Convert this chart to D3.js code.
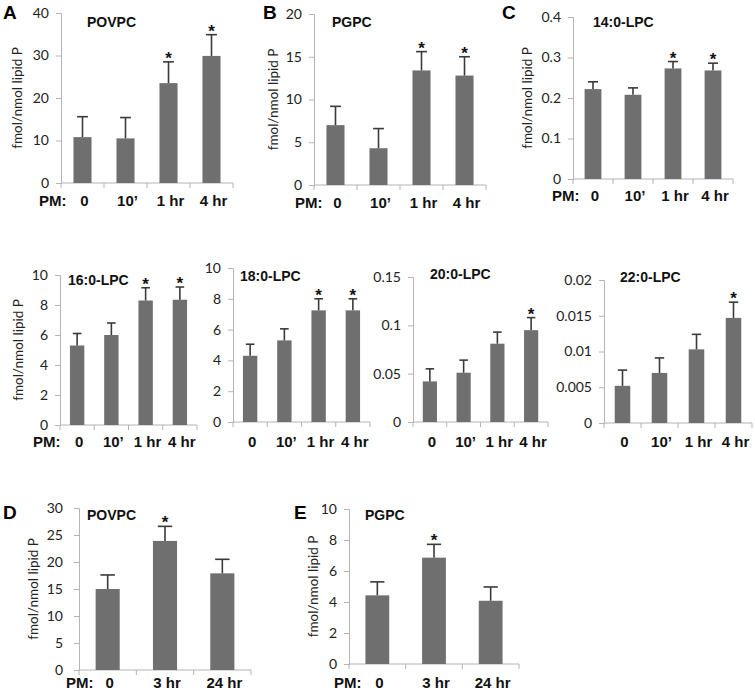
<!DOCTYPE html>
<html>
<head>
<meta charset="utf-8">
<script src="https://cdn.jsdelivr.net/npm/d3@7"></script>
<style>
  html, body { margin: 0; padding: 0; background: #fff; }
  svg { display: block; }
</style>
</head>
<body>
<svg id="chart" width="755" height="693"></svg>
<script>
// ---------- DATA ----------
const timesShortTerm = ["0", "10\u2019", "1 hr", "4 hr"];
const timesLongTerm = ["0", "3 hr", "24 hr"];

const povpcA = [10.8, 10.5, 23.5, 29.9];
const povpcAErr = [4.8, 4.9, 5.0, 5.0];
const povpcASig = [0, 0, 1, 1];

const pgpcB = [7.0, 4.3, 13.4, 12.8];
const pgpcBErr = [2.2, 2.3, 2.2, 2.2];
const pgpcBSig = [0, 0, 1, 1];

const lpc14 = [0.222, 0.208, 0.273, 0.268];
const lpc14Err = [0.018, 0.017, 0.017, 0.018];
const lpc14Sig = [0, 0, 1, 1];

const lpc16 = [5.3, 6.0, 8.3, 8.35];
const lpc16Err = [0.8, 0.8, 0.85, 0.85];
const lpc16Sig = [0, 0, 1, 1];

const lpc18 = [4.3, 5.3, 7.25, 7.25];
const lpc18Err = [0.75, 0.75, 0.75, 0.75];
const lpc18Sig = [0, 0, 1, 1];

const lpc20 = [0.042, 0.051, 0.081, 0.095];
const lpc20Err = [0.013, 0.013, 0.012, 0.013];
const lpc20Sig = [0, 0, 0, 1];

const lpc22 = [0.0052, 0.0070, 0.0103, 0.0147];
const lpc22Err = [0.0022, 0.0021, 0.0021, 0.0022];
const lpc22Sig = [0, 0, 0, 1];

const povpcD = [15.0, 23.9, 17.9];
const povpcDErr = [2.6, 2.7, 2.6];
const povpcDSig = [0, 1, 0];

const pgpcE = [4.43, 6.86, 4.08];
const pgpcEErr = [0.87, 0.86, 0.89];
const pgpcESig = [0, 1, 0];

const ticksA = [0, 10, 20, 30, 40];
const ticksB = [0, 5, 10, 15, 20];
const ticksC = [0, 0.1, 0.2, 0.3, 0.4];
const ticks16 = [0, 2, 4, 6, 8, 10];
const ticks18 = [0, 2, 4, 6, 8, 10];
const ticks20 = [0, 0.05, 0.1, 0.15];
const ticks22 = [0, 0.005, 0.01, 0.015, 0.02];
const ticksD = [0, 5, 10, 15, 20, 25, 30];
const ticksE = [0, 2, 4, 6, 8, 10];

const yLabel = "fmol/nmol lipid P";

// ---------- LAYOUT ----------
const panels = [
  { letter: "A", lx: 3, ly: 19, title: "POVPC", tx: 87, ty: 27,
    cats: timesShortTerm, vals: povpcA, err: povpcAErr, sig: povpcASig, ticks: ticksA,
    x0: 61, x1: 233, y0: 183, y1: 13, ylab: 17, pm: 39, xb: 206 },
  { letter: "B", lx: 263, ly: 19, title: "PGPC", tx: 332, ty: 27,
    cats: timesShortTerm, vals: pgpcB, err: pgpcBErr, sig: pgpcBSig, ticks: ticksB,
    x0: 314, x1: 486, y0: 185, y1: 14, ylab: 273, pm: 295, xb: 208 },
  { letter: "C", lx: 502, ly: 19, title: "14:0-LPC", tx: 593, ty: 27,
    cats: timesShortTerm, vals: lpc14, err: lpc14Err, sig: lpc14Sig, ticks: ticksC,
    x0: 573, x1: 733, y0: 179, y1: 17, ylab: 527, pm: 552, xb: 201 },
  { title: "16:0-LPC", tx: 68, ty: 285,
    cats: timesShortTerm, vals: lpc16, err: lpc16Err, sig: lpc16Sig, ticks: ticks16,
    x0: 60, x1: 197, y0: 425, y1: 275, ylab: 18, pm: 33, xb: 447 },
  { title: "18:0-LPC", tx: 240, ty: 281,
    cats: timesShortTerm, vals: lpc18, err: lpc18Err, sig: lpc18Sig, ticks: ticks18,
    x0: 233, x1: 370, y0: 422, y1: 268, xb: 447 },
  { title: "20:0-LPC", tx: 430, ty: 279,
    cats: timesShortTerm, vals: lpc20, err: lpc20Err, sig: lpc20Sig, ticks: ticks20,
    x0: 413, x1: 548, y0: 422, y1: 277, xb: 447 },
  { title: "22:0-LPC", tx: 620, ty: 282,
    cats: timesShortTerm, vals: lpc22, err: lpc22Err, sig: lpc22Sig, ticks: ticks22,
    x0: 604, x1: 752, y0: 423, y1: 280, xb: 447 },
  { letter: "D", lx: 3, ly: 519, title: "POVPC", tx: 87, ty: 520,
    cats: timesLongTerm, vals: povpcD, err: povpcDErr, sig: povpcDSig, ticks: ticksD,
    x0: 79, x1: 251, y0: 670, y1: 508, ylab: 33, pm: 66, xb: 688, tpad: 11 },
  { letter: "E", lx: 294, ly: 519, title: "PGPC", tx: 365, ty: 520,
    cats: timesLongTerm, vals: pgpcE, err: pgpcEErr, sig: pgpcESig, ticks: ticksE,
    x0: 349, x1: 519, y0: 664, y1: 509, ylab: 313, pm: 334, xb: 688 }
];

const BAR = "#6f6f6f";
const AXIS = "#b4b4b4";
const ERR = "#3a3a3a";
const TICKTXT = "#222";

const svg = d3.select("#chart");

panels.forEach(p => {
  const g = svg.append("g");
  const tmax = p.ticks[p.ticks.length - 1];
  const y = d3.scaleLinear().domain([0, tmax]).range([p.y0, p.y1]);
  const x = d3.scaleBand().domain(p.cats).range([p.x0, p.x1])
    .paddingInner(0.58).paddingOuter(0.29);
  const step = x.step();

  // y axis
  const yAxis = d3.axisLeft(y).tickValues(p.ticks)
    .tickFormat(d => String(+d.toPrecision(6)))
    .tickSize(5).tickPadding(p.tpad || 7);
  const ya = g.append("g").attr("transform", `translate(${p.x0},0)`).call(yAxis);
  ya.select(".domain").attr("stroke", AXIS).attr("stroke-width", 1);
  ya.selectAll(".tick line").attr("stroke", AXIS);
  ya.selectAll(".tick text").attr("fill", TICKTXT)
    .style("font-family", "Lato, 'Open Sans', sans-serif").style("font-size", "14px");

  // x axis line with boundary ticks
  const xa = g.append("g");
  xa.append("line").attr("x1", p.x0).attr("x2", p.x1).attr("y1", p.y0).attr("y2", p.y0)
    .attr("stroke", AXIS).attr("stroke-width", 1);
  d3.range(p.cats.length + 1).forEach(i => {
    const xx = p.x0 + i * step;
    xa.append("line").attr("x1", xx).attr("x2", xx).attr("y1", p.y0).attr("y2", p.y0 + 5)
      .attr("stroke", AXIS);
  });

  // bars
  const bw = x.bandwidth();
  g.selectAll("rect.bar").data(p.vals).enter().append("rect")
    .attr("class", "bar")
    .attr("x", (d, i) => x(p.cats[i]))
    .attr("width", bw)
    .attr("y", d => y(d))
    .attr("height", d => p.y0 - y(d))
    .attr("fill", BAR);

  // error bars (upper only)
  const cap = bw * 0.6;
  p.vals.forEach((v, i) => {
    const cx = x(p.cats[i]) + bw / 2;
    const top = y(v + p.err[i]);
    g.append("line").attr("x1", cx).attr("x2", cx).attr("y1", y(v)).attr("y2", top)
      .attr("stroke", ERR).attr("stroke-width", 1.6);
    g.append("line").attr("x1", cx - cap / 2).attr("x2", cx + cap / 2).attr("y1", top).attr("y2", top)
      .attr("stroke", ERR).attr("stroke-width", 1.6);
    if (p.sig[i]) {
      g.append("text").attr("x", cx).attr("y", top + 2)
        .attr("text-anchor", "middle")
        .style("font-family", "'Liberation Sans', Arial, sans-serif")
        .style("font-weight", "bold").style("font-size", "17px")
        .attr("fill", "#111").text("*");
    }
  });

  // x category labels
  p.cats.forEach((c, i) => {
    const cx = x(c) + bw / 2;
    g.append("text").attr("x", cx + 2).attr("y", p.xb)
      .attr("text-anchor", "middle")
      .style("font-family", "'Liberation Sans', Arial, sans-serif")
      .style("font-weight", "bold").style("font-size", "15px")
      .attr("fill", "#111").text(c);
  });
  if (p.pm !== undefined) {
    g.append("text").attr("x", p.pm).attr("y", p.xb)
      .style("font-family", "'Liberation Sans', Arial, sans-serif")
      .style("font-weight", "bold").style("font-size", "15px")
      .attr("fill", "#111").text("PM:");
  }

  // title
  g.append("text").attr("x", p.tx).attr("y", p.ty)
    .style("font-family", "'Liberation Sans', Arial, sans-serif")
    .style("font-weight", "bold").style("font-size", "14px")
    .attr("fill", "#111").text(p.title);

  // y label
  if (p.ylab !== undefined) {
    const cy = (p.y0 + p.y1) / 2;
    g.append("text")
      .attr("transform", `translate(${p.ylab + 5},${cy}) rotate(-90)`)
      .attr("text-anchor", "middle")
      .style("font-family", "Lato, 'Open Sans', sans-serif")
      .style("font-size", "13.5px")
      .attr("fill", "#222").text(yLabel);
  }

  // panel letter
  if (p.letter) {
    g.append("text").attr("x", p.lx).attr("y", p.ly)
      .style("font-family", "'Liberation Sans', Arial, sans-serif")
      .style("font-weight", "bold").style("font-size", "19px")
      .attr("fill", "#000").text(p.letter);
  }
});
</script>
</body>
</html>
